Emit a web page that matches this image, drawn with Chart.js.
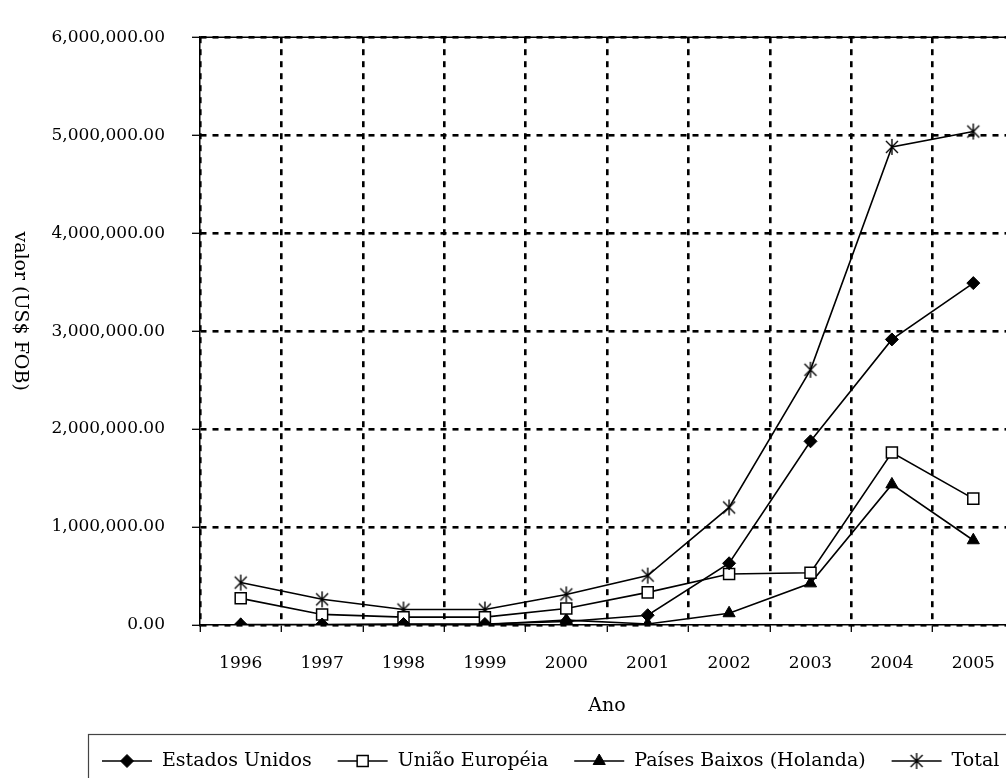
<!DOCTYPE html>
<html>
<head>
<meta charset="utf-8">
<script src="https://cdn.jsdelivr.net/npm/chart.js@4.4.1/dist/chart.umd.min.js"></script>
<style>
  html, body { margin: 0; padding: 0; background: #fff; overflow: hidden; }
  #wrap { width: 1024px; height: 778px; }
</style>
</head>
<body>
<div id="wrap"><canvas id="c" width="1024" height="778"></canvas></div>
<script>
// ---- data ----
const years = ['1996', '1997', '1998', '1999', '2000', '2001', '2002', '2003', '2004', '2005'];
const estadosUnidos   = [5000, 5000, 10000, 10000, 35000, 100000, 630000, 1875000, 2915000, 3490000];
const uniaoEuropeia   = [272000, 108000, 80000, 80000, 168000, 333000, 521000, 534000, 1761000, 1290000];
const paisesBaixos    = [2000, 2000, 5000, 5000, 50000, 10000, 120000, 425000, 1435000, 865000];
const total           = [433000, 262000, 158000, 158000, 312000, 504000, 1200000, 2605000, 4880000, 5037000];
const seriesNames = ['Estados Unidos', 'União Européia', 'Países Baixos (Holanda)', 'Total'];
const yTitle = 'valor (US$ FOB)';
const xTitle = 'Ano';
const yMax = 6000000;
const yStep = 1000000;

const SERIF = '"DejaVu Serif", "Liberation Serif", serif';

// custom six-armed asterisk marker
function makeStar() {
  const c = document.createElement('canvas');
  c.width = 18; c.height = 18;
  const g = c.getContext('2d');
  g.strokeStyle = '#000'; g.lineWidth = 1.4;
  g.beginPath();
  g.moveTo(9, 1); g.lineTo(9, 17);
  g.moveTo(3, 3); g.lineTo(15, 15);
  g.moveTo(15, 3); g.lineTo(3, 15);
  g.stroke();
  return c;
}
const starImg = makeStar();

const markerDefs = [
  { pointStyle: 'rectRot', radius: 6.5, fill: '#000', borderWidth: 1 },
  { pointStyle: 'rect', radius: 7.8, fill: '#fff', borderWidth: 1.5 },
  { pointStyle: 'triangle', radius: 7, fill: '#000', borderWidth: 1 },
  { pointStyle: starImg, radius: 9, fill: '#000', borderWidth: 1 }
];
const seriesData = [estadosUnidos, uniaoEuropeia, paisesBaixos, total];

const datasets = seriesData.map((d, i) => ({
  label: seriesNames[i],
  data: d,
  borderColor: '#000',
  borderWidth: 1.6,
  tension: 0,
  fill: false,
  pointStyle: markerDefs[i].pointStyle,
  pointRadius: markerDefs[i].radius,
  pointHoverRadius: markerDefs[i].radius,
  pointBackgroundColor: markerDefs[i].fill,
  pointBorderColor: '#000',
  pointBorderWidth: markerDefs[i].borderWidth
}));

function drawLegendMarker(ctx, i, x, y) {
  const m = markerDefs[i];
  ctx.save();
  ctx.fillStyle = m.fill; ctx.strokeStyle = '#000'; ctx.lineWidth = m.borderWidth;
  ctx.beginPath();
  if (m.pointStyle === 'rectRot') {
    const r = m.radius;
    ctx.moveTo(x, y - r); ctx.lineTo(x + r, y); ctx.lineTo(x, y + r); ctx.lineTo(x - r, y); ctx.closePath();
    ctx.fill(); ctx.stroke();
  } else if (m.pointStyle === 'rect') {
    const s = m.radius * Math.SQRT1_2;
    ctx.rect(x - s, y - s, 2 * s, 2 * s); ctx.fill(); ctx.stroke();
  } else if (m.pointStyle === 'triangle') {
    const r = m.radius;
    ctx.moveTo(x, y - r); ctx.lineTo(x + r * 0.866, y + r / 2); ctx.lineTo(x - r * 0.866, y + r / 2); ctx.closePath();
    ctx.fill(); ctx.stroke();
  } else {
    ctx.drawImage(starImg, x - starImg.width / 2, y - starImg.height / 2);
  }
  ctx.restore();
}

const decor = {
  id: 'decor',
  afterDraw(chart) {
    const { ctx, chartArea: a } = chart;
    ctx.save();
    // top frame line
    ctx.strokeStyle = '#000'; ctx.lineWidth = 1.5;
    ctx.beginPath(); ctx.moveTo(a.left, a.top); ctx.lineTo(a.right, a.top); ctx.stroke();
    // y-axis title
    ctx.save();
    ctx.translate(20, (a.top + a.bottom) / 2 - 20);
    ctx.rotate(Math.PI / 2);
    ctx.font = '19px ' + SERIF;
    ctx.fillStyle = '#000'; ctx.textAlign = 'center'; ctx.textBaseline = 'middle';
    ctx.fillText(yTitle, 0, 0);
    ctx.restore();
    // legend box
    ctx.strokeStyle = '#444'; ctx.lineWidth = 1.2;
    ctx.strokeRect(88.5, 734.5, chart.width, 80);
    ctx.font = '19px ' + SERIF;
    ctx.textBaseline = 'middle'; ctx.textAlign = 'left'; ctx.fillStyle = '#000';
    let x = 102; const y = 761;
    chart.data.datasets.forEach((ds, i) => {
      ctx.strokeStyle = '#000'; ctx.lineWidth = 1.6;
      ctx.beginPath(); ctx.moveTo(x, y); ctx.lineTo(x + 50, y); ctx.stroke();
      drawLegendMarker(ctx, i, x + 25, y);
      ctx.fillText(ds.label, x + 60, y);
      x += 60 + ctx.measureText(ds.label).width + 26;
    });
    ctx.restore();
  }
};

new Chart(document.getElementById('c'), {
  type: 'line',
  data: { labels: years, datasets },
  options: {
    responsive: false,
    animation: false,
    layout: { padding: { top: 30, right: 2, bottom: 61, left: 0 } },
    plugins: { legend: { display: false }, tooltip: { enabled: false } },
    scales: {
      x: {
        type: 'category',
        offset: true,
        grid: {
          offset: true, color: '#000', lineWidth: 2.6,
          tickLength: 7, tickColor: '#000', tickWidth: 1.3, tickBorderDash: []
        },
        border: { display: true, color: '#000', width: 1.5, dash: [6, 6] },
        ticks: { color: '#000', padding: 21, font: { family: SERIF, size: 17 }, maxRotation: 0 },
        title: { display: true, text: xTitle, color: '#000', font: { family: SERIF, size: 19 }, padding: { top: 0, bottom: 0 } },
        afterFit(scale) { scale.height = 92; }
      },
      y: {
        min: 0, max: yMax,
        grid: {
          color: '#000', lineWidth: 2.6,
          tickLength: 8, tickColor: '#000', tickWidth: 1.3, tickBorderDash: []
        },
        border: { display: true, color: '#000', width: 1.5, dash: [6, 6] },
        ticks: {
          stepSize: yStep, color: '#000', padding: 27,
          font: { family: SERIF, size: 17 },
          callback: v => Number(v).toLocaleString('en-US', { minimumFractionDigits: 2, maximumFractionDigits: 2 })
        },
        afterFit(scale) { scale.width = 200; }
      }
    }
  },
  plugins: [decor]
});
</script>
</body>
</html>
